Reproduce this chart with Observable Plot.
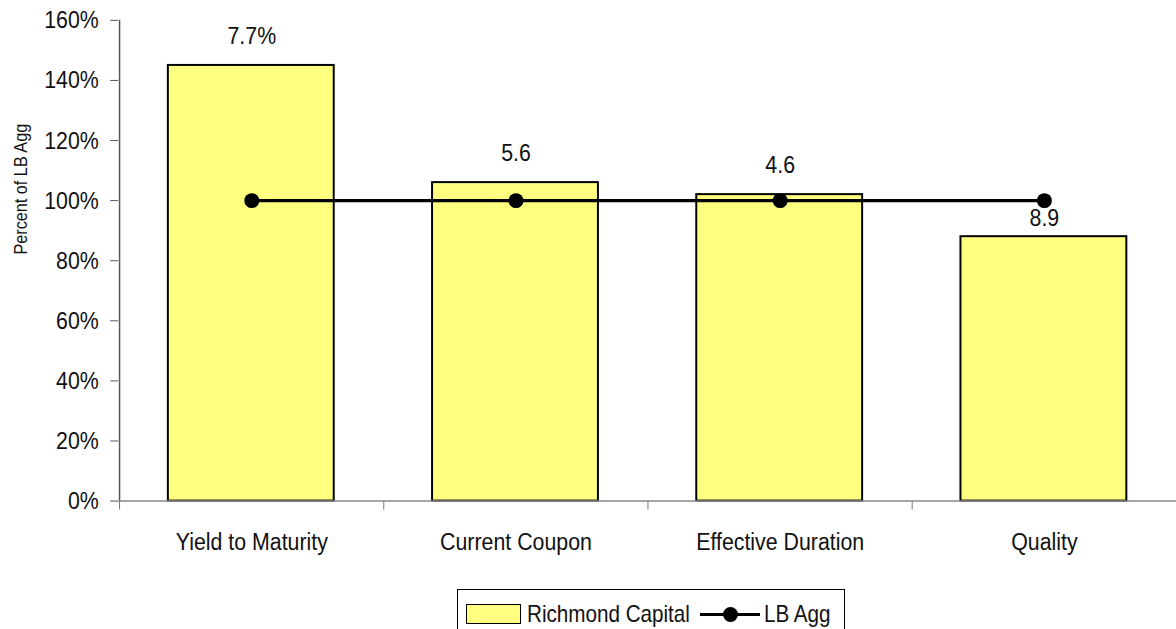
<!DOCTYPE html>
<html>
<head>
<meta charset="utf-8">
<script src="https://cdn.jsdelivr.net/npm/d3@7"></script>
<script src="https://cdn.jsdelivr.net/npm/@observablehq/plot@0.6"></script>
<style>
  html, body { margin: 0; padding: 0; background: #fff; overflow: hidden; width: 1176px; height: 629px; }
  body { position: relative; font-family: "Liberation Sans", Arial, sans-serif; }
  #chart svg { display: block; }
  #legend { position: absolute; left: 457px; top: 589px; border: 1px solid #000; background: #fff;
            display: flex; align-items: center; padding: 10px 14px 14px 8px; font-size: 24px; color: #111; white-space: nowrap; }
  #legend span { display: inline-block; transform: scaleX(0.86); transform-origin: left center; }
  .sw { width: 53px; height: 18px; background: #ffff80; border: 1.5px solid #000; margin-right: 6px; }
  .ln { position: relative; width: 60px; height: 20px; margin: 0 4px 0 10px; }
  .ln::before { content: ""; position: absolute; left: 0; right: 0; top: 8.5px; height: 3.5px; background: #000; }
  .ln::after { content: ""; position: absolute; left: 23px; top: 3px; width: 15px; height: 15px; border-radius: 50%; background: #000; }
</style>
</head>
<body>
<div id="chart"></div>
<div id="legend"><div class="sw"></div><span id="l1">Richmond Capital</span><div class="ln"></div><span id="l2">LB Agg</span></div>
<script>
const categories = ["Yield to Maturity", "Current Coupon", "Effective Duration", "Quality"];
const richmondValues = [145, 106, 102, 88];
const lbAggValues = [100, 100, 100, 100];
const barLabels = ["7.7%", "5.6", "4.6", "8.9"];
const yTicks = [0, 20, 40, 60, 80, 100, 120, 140, 160];

const rows = categories.map((c, i) => ({cat: c, rc: richmondValues[i], lb: lbAggValues[i], label: barLabels[i]}));

const W = 1184, H = 585, ML = 119, MR = 0, MT = 20, MB = 81;
const bw = (W - ML - MR) / categories.length;
const font = '"Liberation Sans", Arial, sans-serif';
const NARROW = 0.86;

const chart = Plot.plot({
  width: W, height: H,
  marginLeft: ML, marginRight: MR, marginTop: MT, marginBottom: MB,
  style: {fontFamily: font, fontSize: "25px", color: "#111", background: "#fff"},
  x: {type: "band", domain: categories, padding: 0, label: null},
  y: {domain: [0, 160], label: null},
  marks: [
    Plot.axisY({ticks: yTicks, tickSize: 8, tickPadding: 12, tickFormat: d => d + "%", stroke: "#555", fontSize: 25, label: null}),
    Plot.axisX({tickSize: 0, tickPadding: 31, fontSize: 25, label: null}),
    Plot.axisX({tickSize: 9, text: null, dx: -bw / 2, stroke: "#777", label: null}),
    Plot.barY(rows, {x: "cat", y: "rc", fill: "#ffff80", stroke: "#000", strokeWidth: 2, insetLeft: 49, insetRight: 50}),
    Plot.ruleY([0], {stroke: "#888", strokeWidth: 1.5}),
    Plot.ruleX([categories[0]], {x: d => d, dx: -bw / 2, stroke: "#555", strokeWidth: 1.5}),
    Plot.text(rows.filter(d => d.cat !== "Quality"), {x: "cat", y: "rc", text: "label", lineAnchor: "bottom", dy: -22, fontSize: 25, fill: "#111"}),
    Plot.text(rows.filter(d => d.cat === "Quality"), {x: "cat", y: "rc", text: "label", lineAnchor: "bottom", dy: -11, fontSize: 25, fill: "#111"}),
    Plot.line(rows, {x: "cat", y: "lb", stroke: "#000", strokeWidth: 3.5}),
    Plot.dot(rows, {x: "cat", y: "lb", r: 7.5, fill: "#000", stroke: "none"}),
    Plot.text(["Percent of LB Agg"], {frameAnchor: "left", textAnchor: "middle", rotate: -90, dx: -98, dy: -72, fontSize: 19, fill: "#111"})
  ]
});
// emulate a narrow (Arial Narrow-like) face by compressing each text horizontally around its anchor
d3.select(chart).selectAll("text").each(function() {
  const t = this.getAttribute("transform");
  if (t) this.setAttribute("transform", t + ` scale(${NARROW},1)`);
  else {
    const x = +this.getAttribute("x") || 0, y = +this.getAttribute("y") || 0;
    this.setAttribute("transform", `translate(${x},${y}) scale(${NARROW},1) translate(${-x},${-y})`);
  }
});
document.getElementById("chart").appendChild(chart);
// compensate layout width of compressed legend labels
for (const id of ["l1", "l2"]) {
  const el = document.getElementById(id);
  const w = el.getBoundingClientRect().width / NARROW;
  el.style.marginRight = (-(w * (1 - NARROW))) + "px";
}
</script>
</body>
</html>
